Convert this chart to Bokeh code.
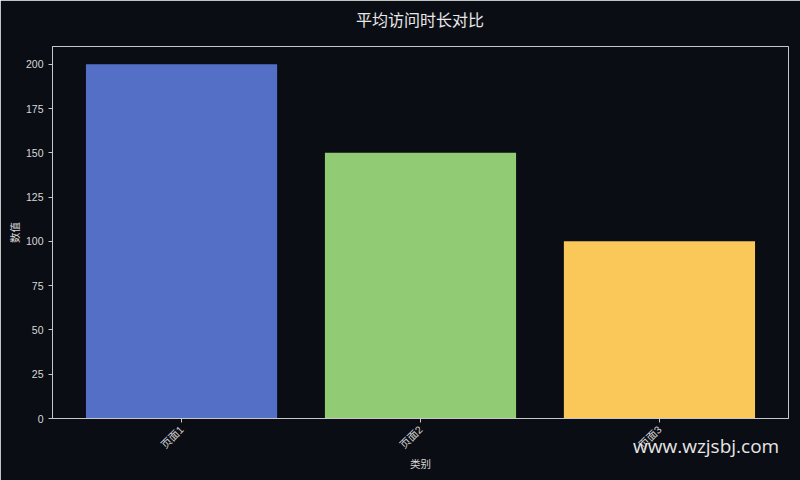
from bokeh.plotting import figure
from bokeh.models import Range1d, FixedTicker, Div
from bokeh.layouts import column
from bokeh.embed import file_html
from bokeh.resources import INLINE
import math

categories = ["页面1", "页面2", "页面3"]
values = [200, 150, 100]
colors = ["#5470c6", "#91cc75", "#fac858"]
y_ticks = [0, 25, 50, 75, 100, 125, 150, 175, 200]
title_text = "平均访问时长对比"
watermark = "www.wzjsbj.com"

BG = "#0b0d14"
FG = "#d8d8d8"
CJK = "Liberation Sans, Noto Sans CJK SC, sans-serif"

xs = list(range(len(categories)))
p = figure(width=800, height=480, output_backend="svg", toolbar_location=None,
           x_range=Range1d(-0.54, 2.54), y_range=Range1d(0, 210),
           frame_width=736, frame_height=372,
           min_border_left=52, min_border_right=12, min_border_top=46, min_border_bottom=62)
p.background_fill_color = BG
p.border_fill_color = BG
p.outline_line_color = "#c8c8c8"
p.outline_line_width = 1
p.grid.visible = False

p.vbar(x=xs, top=values, width=0.8, bottom=0, fill_color=colors, line_color=None)

for ax in (p.xaxis[0], p.yaxis[0]):
    ax.axis_line_color = "#c8c8c8"
    ax.major_tick_line_color = "#c8c8c8"
    ax.major_tick_out = 4
    ax.major_tick_in = 0
    ax.minor_tick_line_color = None
    ax.major_label_text_color = FG
    ax.major_label_text_font = CJK
    ax.major_label_text_font_size = "10.5px"
    ax.axis_label_text_color = FG
    ax.axis_label_text_font = CJK
    ax.axis_label_text_font_size = "10.5px"
    ax.axis_label_text_font_style = "normal"

p.xaxis.ticker = FixedTicker(ticks=xs)
p.xaxis.major_label_overrides = {i: c for i, c in enumerate(categories)}
p.xaxis.major_label_orientation = math.pi / 4
p.xaxis.axis_label = "类别"
p.xaxis.axis_label_standoff = 0
p.yaxis.ticker = FixedTicker(ticks=y_ticks)
p.yaxis.axis_label = "数值"
p.yaxis.axis_label_standoff = 2

title_div = Div(text=title_text, width=736, height=24, margin=(-473, 0, 0, 52),
                styles={"font-family": "Noto Sans CJK SC", "font-size": "16px",
                        "color": "#e8e8e8", "text-align": "center",
                        "white-space": "nowrap", "line-height": "24px"})

wm = Div(text=watermark, width=160, height=26, margin=(402, 0, 0, 633),
         styles={"font-family": "Open Sans", "font-size": "19px",
                 "color": "#e6e6e6", "white-space": "nowrap"})

layout = column(p, title_div, wm, spacing=0)
open("out.html", "w").write(file_html(layout, INLINE))
